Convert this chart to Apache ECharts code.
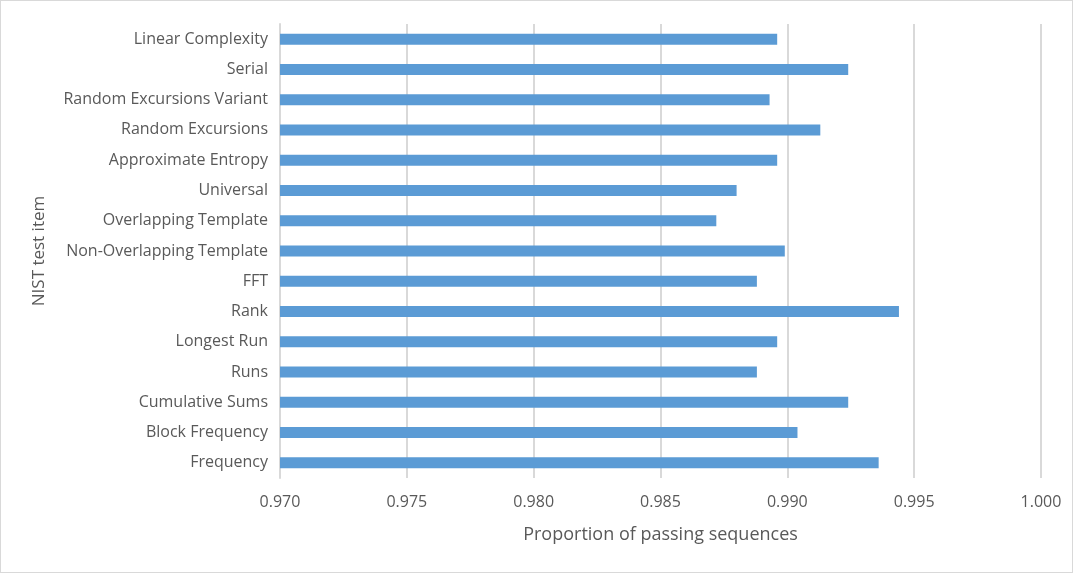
<!DOCTYPE html>
<html><head><meta charset="utf-8">
<script src="https://cdn.jsdelivr.net/npm/echarts@6/dist/echarts.min.js"></script>
<style>html,body{margin:0;padding:0;background:#fff}#c{width:1071px;height:571px;border:1px solid #d9d9d9}</style>
</head><body><div id="c"></div>
<script>
var categories = ["Frequency","Block Frequency","Cumulative Sums","Runs","Longest Run","Rank","FFT","Non-Overlapping Template","Overlapping Template","Universal","Approximate Entropy","Random Excursions","Random Excursions Variant","Serial","Linear Complexity"];
var values = [0.9936,0.9904,0.9924,0.9888,0.9896,0.9944,0.9888,0.9899,0.9872,0.9880,0.9896,0.9913,0.9893,0.9924,0.9896];
var xTicks = [0.970,0.975,0.980,0.985,0.990,0.995,1.000];
var chart = echarts.init(document.getElementById('c'));
var font = "'Open Sans', 'Liberation Sans', sans-serif";
chart.setOption({
  animation:false,
  grid:{left:279,right:31,top:23,bottom:94,containLabel:false},
  xAxis:{type:'value',min:0.970,max:1.000,interval:0.005,
    name:'Proportion of passing sequences',nameLocation:'middle',nameGap:48,
    nameTextStyle:{color:'#595959',fontSize:18,fontFamily:font},
    axisLine:{show:false},axisTick:{show:false},
    axisLabel:{color:'#595959',fontSize:16,fontFamily:font,margin:16,formatter:function(v){return v.toFixed(3);}},
    splitLine:{show:true,lineStyle:{color:'#d9d9d9',width:2}}},
  yAxis:{type:'category',data:categories,
    name:'NIST test item',nameLocation:'middle',nameGap:232,nameRotate:90,
    nameTextStyle:{color:'#595959',fontSize:17,fontFamily:font},
    axisLine:{show:true,lineStyle:{color:'#d9d9d9',width:2}},axisTick:{show:false},
    axisLabel:{color:'#595959',fontSize:16,fontFamily:font,margin:12}},
  series:[{type:'bar',data:values,barWidth:11,itemStyle:{color:'#5b9bd5'}}]
});
</script></body></html>
